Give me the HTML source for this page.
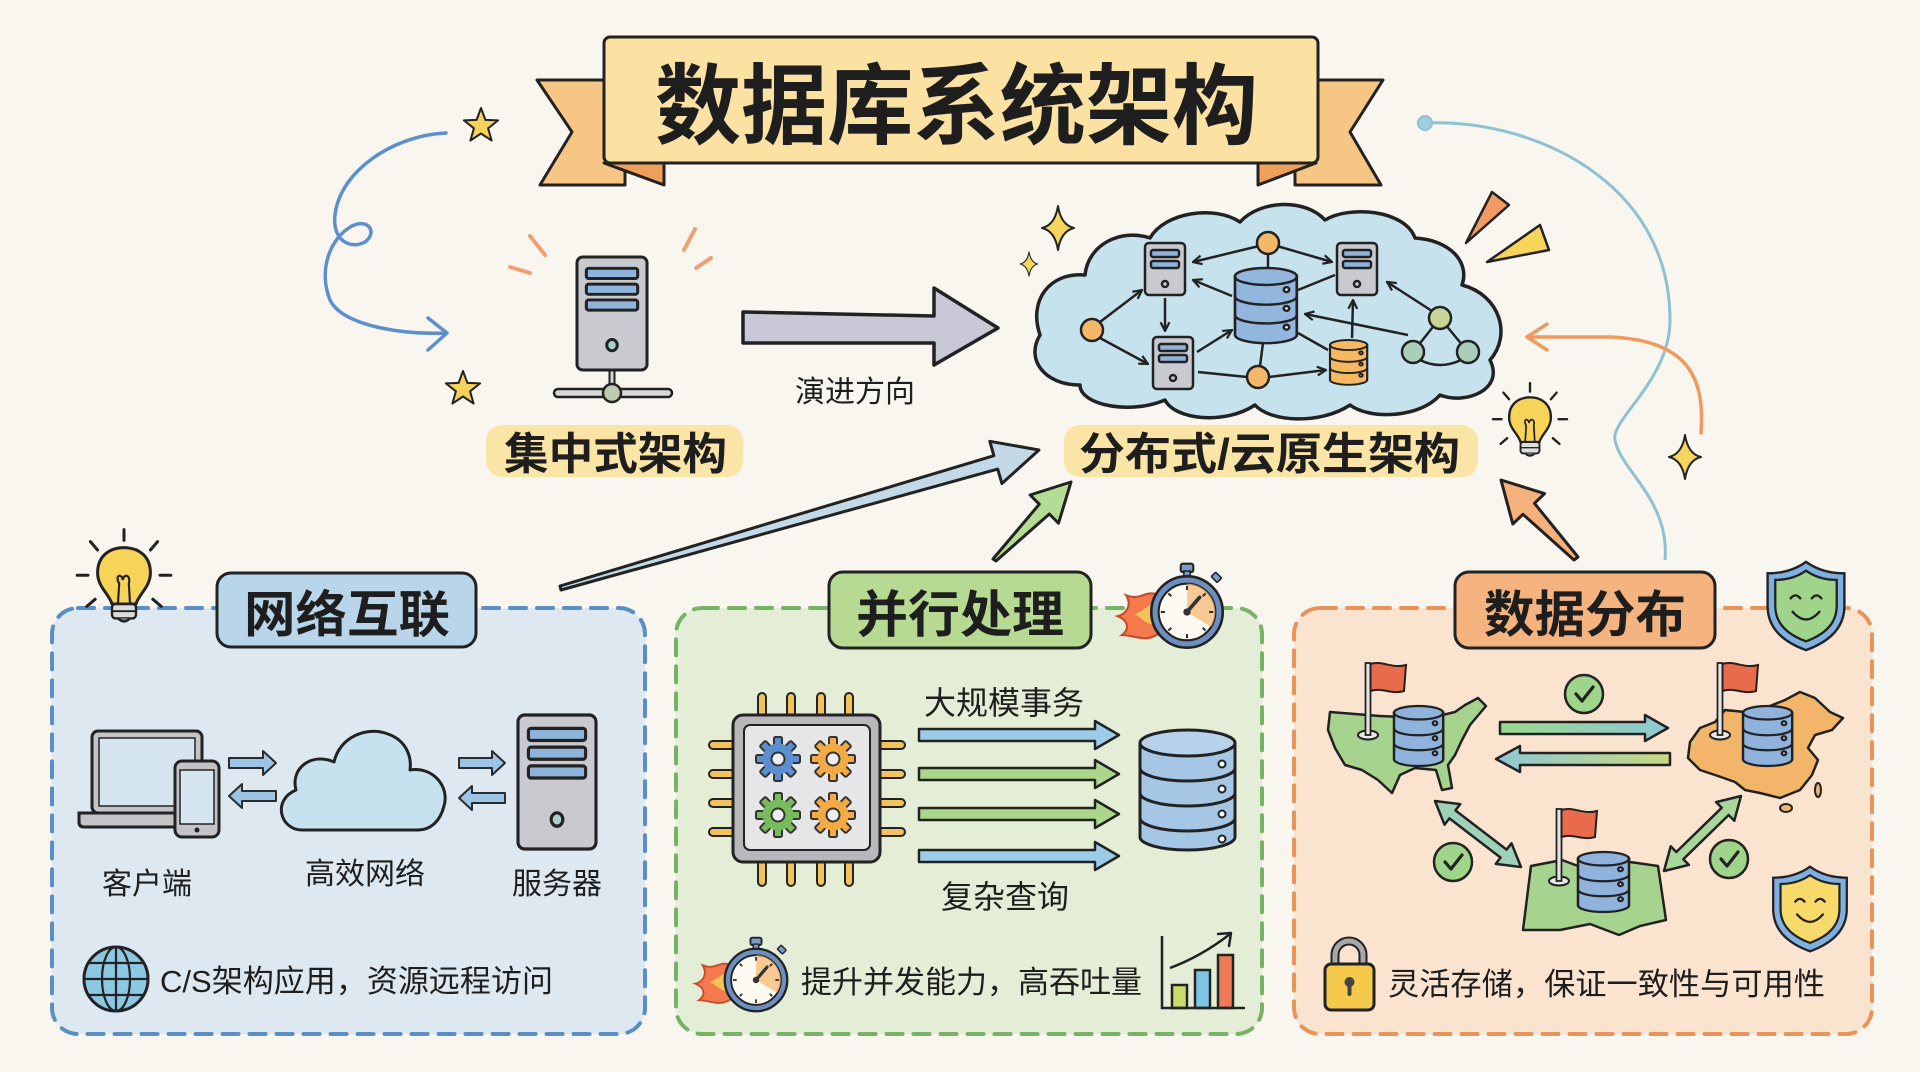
<!DOCTYPE html>
<html><head><meta charset="utf-8">
<style>
html,body{margin:0;padding:0;background:#f8f6ef;}
svg{display:block}
.t{font-family:"Liberation Sans","Noto Sans CJK SC",sans-serif;fill:#1e1e1e}
.b{font-weight:bold}
</style></head><body>
<svg width="1920" height="1072" viewBox="0 0 1920 1072" xmlns="http://www.w3.org/2000/svg">
<defs>
<marker id="ah" viewBox="0 0 10 10" refX="9" refY="5" markerWidth="11" markerHeight="11" markerUnits="userSpaceOnUse" orient="auto"><path d="M1,1 L9,5 L1,9" fill="none" stroke="#222" stroke-width="2"/></marker>
<g id="db">
 <path d="M0,9 V71 A30,9 0 0 0 60,71 V9 Z"/>
 <ellipse cx="30" cy="9" rx="30" ry="9"/>
 <path d="M0,30 A30,9 0 0 0 60,30 M0,50 A30,9 0 0 0 60,50" fill="none"/>
 <circle cx="50" cy="23" r="2.6" fill="#fff"/>
 <circle cx="50" cy="43" r="2.6" fill="#fff"/>
 <circle cx="50" cy="63" r="2.6" fill="#fff"/>
</g>
<g id="srv3">
 <rect x="0" y="0" width="60" height="100" rx="5"/>
 <rect x="8" y="10" width="44" height="9" rx="2" fill="#8fb4dc"/>
 <rect x="8" y="24" width="44" height="9" rx="2" fill="#8fb4dc"/>
 <rect x="8" y="38" width="44" height="9" rx="2" fill="#8fb4dc"/>
 <ellipse cx="30" cy="78" rx="4.5" ry="5" fill="#a9d0cc"/>
</g>
<g id="srv2">
 <rect x="0" y="0" width="40" height="52" rx="4"/>
 <rect x="6" y="7" width="28" height="7" rx="2" fill="#8fb4dc"/>
 <rect x="6" y="18" width="28" height="7" rx="2" fill="#8fb4dc"/>
 <circle cx="20" cy="41" r="3" fill="none"/>
</g>
<path id="star" d="M0,-18 L4.4,-6.1 L17.1,-5.6 L7.1,2.3 L10.6,14.6 L0,7.5 L-10.6,14.6 L-7.1,2.3 L-17.1,-5.6 L-4.4,-6.1 Z" fill="#f6d25a" stroke="#222" stroke-width="2" stroke-linejoin="round"/>
<path id="spark" d="M0,-22 Q3,-3 16,0 Q3,3 0,22 Q-3,3 -16,0 Q-3,-3 0,-22 Z" fill="#f6d55c" stroke="#222" stroke-width="2" stroke-linejoin="round"/>
<g id="gear" stroke="#333" stroke-width="2">
 <rect x="-4" y="-22" width="8" height="9" rx="1.5"/>
 <rect x="-4" y="-22" width="8" height="9" rx="1.5" transform="rotate(45)"/>
 <rect x="-4" y="-22" width="8" height="9" rx="1.5" transform="rotate(90)"/>
 <rect x="-4" y="-22" width="8" height="9" rx="1.5" transform="rotate(135)"/>
 <rect x="-4" y="-22" width="8" height="9" rx="1.5" transform="rotate(180)"/>
 <rect x="-4" y="-22" width="8" height="9" rx="1.5" transform="rotate(225)"/>
 <rect x="-4" y="-22" width="8" height="9" rx="1.5" transform="rotate(270)"/>
 <rect x="-4" y="-22" width="8" height="9" rx="1.5" transform="rotate(315)"/>
 <circle r="15.5" stroke="none"/>
 <circle r="6.5" fill="#eeeeee"/>
</g>
<g id="bulb">
 <g stroke="#222" stroke-width="2.5" stroke-linecap="round">
  <line x1="0" y1="-33" x2="0" y2="-42"/>
  <line x1="-22" y1="-25" x2="-28" y2="-32"/>
  <line x1="22" y1="-25" x2="28" y2="-32"/>
  <line x1="-30" y1="-4" x2="-39" y2="-4"/>
  <line x1="30" y1="-4" x2="39" y2="-4"/>
  <line x1="-24" y1="16" x2="-31" y2="22"/>
  <line x1="24" y1="16" x2="31" y2="22"/>
 </g>
 <path d="M-10,20 C-12,12 -22,6 -22,-6 C-22,-20 -12,-27 0,-27 C12,-27 22,-20 22,-6 C22,6 12,12 10,20 Z" fill="#f7d458" stroke="#222" stroke-width="2.5"/>
 <path d="M-5,19 L-4,3 C-8,-4 -2,-6 -1,0 C0,-6 6,-4 4,3 L5,19" fill="none" stroke="#222" stroke-width="1.8"/>
 <rect x="-10" y="20" width="20" height="12" rx="3" fill="#dddddd" stroke="#222" stroke-width="2"/>
 <line x1="-10" y1="26" x2="10" y2="26" stroke="#222" stroke-width="1.5"/>
 <path d="M-5,32 Q0,37 5,32" fill="#888" stroke="#222" stroke-width="2"/>
</g>
<g id="sw">
 <path d="M-26,-16 C-40,-22 -44,-10 -58,-16 C-52,-6 -58,2 -66,4 C-56,8 -54,16 -62,22 C-48,22 -40,30 -26,20 Z" fill="#f27a4c" stroke="#c94a2a" stroke-width="2"/>
 <path d="M-28,-8 C-38,-8 -42,0 -50,2 C-42,6 -40,12 -30,12 Z" fill="#f8c25a"/>
 <rect x="-6" y="-46" width="12" height="8" rx="2" fill="#7a9cc8" stroke="#222" stroke-width="2"/>
 <rect x="-3" y="-39" width="6" height="6" fill="#7a9cc8" stroke="#222" stroke-width="1.5"/>
 <rect x="24" y="-36" width="8" height="6" rx="1" transform="rotate(45 28 -33)" fill="#7a9cc8" stroke="#222" stroke-width="1.5"/>
 <circle r="34" fill="#6d8fbf" stroke="#222" stroke-width="2.5"/>
 <circle r="27" fill="#fdfaf2" stroke="#222" stroke-width="2"/>
 <path d="M0,0 L0,-27 A27,27 0 0 1 23,14 Z" fill="#f6b36c" opacity="0.7"/>
 <g stroke="#333" stroke-width="2">
  <line x1="0" y1="-21" x2="0" y2="-25"/><line x1="0" y1="21" x2="0" y2="25"/>
  <line x1="-21" y1="0" x2="-25" y2="0"/><line x1="21" y1="0" x2="25" y2="0"/>
  <line x1="15" y1="-15" x2="17.7" y2="-17.7"/><line x1="-15" y1="-15" x2="-17.7" y2="-17.7"/>
  <line x1="15" y1="15" x2="17.7" y2="17.7"/><line x1="-15" y1="15" x2="-17.7" y2="17.7"/>
 </g>
 <line x1="0" y1="0" x2="12" y2="-14" stroke="#333" stroke-width="3.5" stroke-linecap="round"/>
 <circle r="3.5" fill="#333"/>
</g>
<g id="shield">
 <path d="M0,-46 C14,-36 28,-34 40,-34 L40,0 C40,24 22,38 0,46 C-22,38 -40,24 -40,0 L-40,-34 C-28,-34 -14,-36 0,-46 Z" fill="#7fb0e0" stroke="#222" stroke-width="2.5"/>
 <path transform="scale(0.8)" d="M0,-46 C14,-36 28,-34 40,-34 L40,0 C40,24 22,38 0,46 C-22,38 -40,24 -40,0 L-40,-34 C-28,-34 -14,-36 0,-46 Z" stroke="#222" stroke-width="3"/>
 <path d="M-16,-8 Q-11,-14 -6,-8 M6,-8 Q11,-14 16,-8 M-14,6 Q0,22 14,6" fill="none" stroke="#222" stroke-width="2.5" stroke-linecap="round"/>
</g>
<g id="chk"><circle r="19" fill="#9fd58a" stroke="#222" stroke-width="2.5"/><path d="M-8,0 L-2,7 L9,-7" fill="none" stroke="#222" stroke-width="3.2" stroke-linecap="round" stroke-linejoin="round"/></g>
<g id="flag">
 <ellipse cx="0" cy="0" rx="10" ry="4.5" fill="#e8e8e8" stroke="#222" stroke-width="2"/>
 <rect x="-2.5" y="-72" width="5" height="72" fill="#e5e5e5" stroke="#222" stroke-width="1.8"/>
 <path d="M2.5,-71 C14,-75 24,-66 38,-70 L36,-44 C24,-40 14,-48 2.5,-44 Z" fill="#ea6a4c" stroke="#222" stroke-width="2"/>
</g>
<linearGradient id="gArr" x1="0" y1="0" x2="1" y2="0"><stop offset="0" stop-color="#9ad88e"/><stop offset="1" stop-color="#8ec8d4"/></linearGradient>
<linearGradient id="gArr2" x1="0" y1="0" x2="1" y2="0"><stop offset="0" stop-color="#8ec8d4"/><stop offset="1" stop-color="#c8d880"/></linearGradient>
</defs>

<rect width="1920" height="1072" fill="#f8f6ef"/>

<!-- Title banner -->
<g stroke="#222" stroke-width="3" stroke-linejoin="round">
<polygon points="537,80 625,80 625,185 540,185 572,132" fill="#f7c685"/>
<polygon points="1383,80 1295,80 1295,185 1381,185 1350,132" fill="#f7c685"/>
<polygon points="604,163 664,163 664,185" fill="#ee9f5a"/>
<polygon points="1316,163 1258,163 1258,185" fill="#ee9f5a"/>
<rect x="604" y="37" width="714" height="126" rx="6" fill="#fbe2a2"/>
</g>
<text class="t b" x="655" y="137" font-size="88" textLength="603" lengthAdjust="spacingAndGlyphs">数据库系统架构</text>

<!-- stars & curly arrow left -->
<use href="#star" transform="translate(481,126)"/>
<use href="#star" transform="translate(463,389)"/>
<path d="M446,133 C395,135 340,170 335,215 C332,240 350,250 365,242 C378,232 368,218 352,226 C330,238 318,270 330,300 C342,325 400,335 446,333" fill="none" stroke="#5b8fd0" stroke-width="3.5" stroke-linecap="round"/>
<path d="M428,318 L447,333 L428,350" fill="none" stroke="#5b8fd0" stroke-width="3.5" stroke-linecap="round" stroke-linejoin="round"/>

<!-- centralized server -->
<g stroke="#f0a070" stroke-width="4" stroke-linecap="round">
<line x1="530" y1="236" x2="545" y2="255"/><line x1="510" y1="267" x2="530" y2="273"/>
<line x1="695" y1="229" x2="684" y2="250"/><line x1="711" y1="258" x2="696" y2="268"/>
</g>
<line x1="612" y1="368" x2="612" y2="392" stroke="#222" stroke-width="7"/>
<line x1="612" y1="368" x2="612" y2="392" stroke="#d8d8d8" stroke-width="3"/>
<rect x="554" y="389" width="118" height="8" rx="4" fill="#d8d8d8" stroke="#222" stroke-width="2.5"/>
<circle cx="612" cy="393" r="9" fill="#bfcab0" stroke="#222" stroke-width="2.5"/>
<use href="#srv3" transform="translate(577,257) scale(1.167,1.13)" fill="#c9cacf" stroke="#222" stroke-width="2.6"/>

<!-- big gray arrow -->
<polygon points="743,312 934,316 934,288 998,328 934,365 934,343 743,343" fill="#c8c8d6" stroke="#222" stroke-width="3.5" stroke-linejoin="round"/>
<text class="t" x="855" y="402" font-size="30" text-anchor="middle">演进方向</text>

<!-- label centralized -->
<rect x="486" y="425" width="257" height="52" rx="16" fill="#fae4a6"/>
<text class="t b" x="504" y="469" font-size="44" textLength="223" lengthAdjust="spacingAndGlyphs">集中式架构</text>

<!-- Cloud distributed -->
<use href="#spark" transform="translate(1058,228)"/>
<use href="#spark" transform="translate(1029,264) scale(0.55)"/>
<path d="M1040,335 C1028,300 1050,272 1085,275 C1088,245 1120,228 1150,238 C1165,212 1215,205 1240,222 C1260,200 1305,198 1325,220 C1350,205 1405,210 1415,238 C1450,240 1470,262 1462,285 C1500,295 1512,335 1490,360 C1505,390 1465,405 1440,395 C1420,418 1370,420 1350,405 C1320,425 1270,422 1255,405 C1225,425 1175,420 1165,400 C1130,415 1080,405 1080,385 C1045,385 1025,360 1040,335 Z" fill="#c6e2ec" stroke="#222" stroke-width="3.5" stroke-linejoin="round"/>
<g stroke="#222" stroke-width="2.5" fill="none">
<line x1="1100" y1="322" x2="1142" y2="290" marker-end="url(#ah)"/>
<line x1="1100" y1="338" x2="1148" y2="364" marker-end="url(#ah)"/>
<line x1="1165" y1="298" x2="1165" y2="331" marker-end="url(#ah)"/>
<line x1="1259" y1="246" x2="1193" y2="262" marker-end="url(#ah)"/>
<line x1="1277" y1="246" x2="1332" y2="262" marker-end="url(#ah)"/>
<line x1="1268" y1="254" x2="1268" y2="270"/>
<line x1="1232" y1="296" x2="1193" y2="280" marker-end="url(#ah)"/>
<line x1="1197" y1="352" x2="1232" y2="330" marker-end="url(#ah)"/>
<line x1="1298" y1="290" x2="1335" y2="275"/>
<line x1="1263" y1="343" x2="1260" y2="366"/>
<line x1="1198" y1="372" x2="1247" y2="377"/>
<line x1="1269" y1="377" x2="1326" y2="370" marker-end="url(#ah)"/>
<line x1="1298" y1="333" x2="1328" y2="350"/>
<line x1="1352" y1="338" x2="1353" y2="300" marker-end="url(#ah)"/>
<line x1="1432" y1="311" x2="1387" y2="282" marker-end="url(#ah)"/>
<line x1="1408" y1="335" x2="1305" y2="314" marker-end="url(#ah)"/>
<line x1="1440" y1="318" x2="1413" y2="352"/>
<line x1="1440" y1="318" x2="1468" y2="352"/>
<path d="M1420,360 Q1440,370 1461,360"/>
</g>
<use href="#srv2" transform="translate(1145,243)" fill="#c9cacf" stroke="#222" stroke-width="2.5"/>
<use href="#srv2" transform="translate(1153,337)" fill="#c9cacf" stroke="#222" stroke-width="2.5"/>
<use href="#srv2" transform="translate(1337,243)" fill="#c9cacf" stroke="#222" stroke-width="2.5"/>
<use href="#db" transform="translate(1235,268) scale(1.03,0.94)" fill="#93b6de" stroke="#222" stroke-width="2.6"/>
<use href="#db" transform="translate(1330,340) scale(0.62,0.56)" fill="#f6b861" stroke="#222" stroke-width="3.5"/>
<g stroke="#222" stroke-width="2.5">
<circle cx="1092" cy="330" r="11" fill="#f5b868"/>
<circle cx="1268" cy="243" r="11" fill="#f5b868"/>
<circle cx="1258" cy="377" r="11" fill="#f5b868"/>
<circle cx="1440" cy="318" r="11" fill="#c9d49a"/>
<circle cx="1413" cy="352" r="11" fill="#a9cfb8"/>
<circle cx="1468" cy="352" r="11" fill="#a9cfb8"/>
</g>
<polygon points="1466,243 1492,192 1509,205" fill="#f19a62" stroke="#222" stroke-width="2.5" stroke-linejoin="round"/>
<polygon points="1487,262 1540,225 1549,250" fill="#f6d55a" stroke="#222" stroke-width="2.5" stroke-linejoin="round"/>

<!-- right decorations -->
<path d="M1425,123 C1530,118 1670,180 1670,320 C1670,380 1610,420 1615,440 C1620,470 1670,500 1665,560" fill="none" stroke="#8ec1d4" stroke-width="3"/>
<circle cx="1425" cy="123" r="7" fill="#9fd0dc" stroke="#8ec1d4" stroke-width="2"/>
<path d="M1701,433 C1705,380 1690,340 1610,337 L1527,337" fill="none" stroke="#ef9a5f" stroke-width="3.5" stroke-linecap="round"/>
<path d="M1547,324 L1527,337 L1547,350" fill="none" stroke="#ef9a5f" stroke-width="3.5" stroke-linecap="round" stroke-linejoin="round"/>
<use href="#spark" transform="translate(1685,457)"/>
<use href="#bulb" transform="translate(1530,423) scale(0.95)"/>

<!-- label distributed -->
<rect x="1064" y="425" width="414" height="52" rx="16" fill="#fae4a6"/>
<text class="t b" x="1079" y="469" font-size="44" textLength="381" lengthAdjust="spacingAndGlyphs">分布式/云原生架构</text>

<!-- arrows to label -->
<polygon points="560,586 993.9,455.7 989.8,441.3 1039,450 1001.9,483.5 997.7,469.1 561,590" fill="#c3d9e8" stroke="#222" stroke-width="3" stroke-linejoin="round"/>
<polygon points="993,559 1039.3,504.2 1030.1,495 1071,482 1058.5,523.2 1049.3,514 996,561" fill="#b4dc94" stroke="#222" stroke-width="3" stroke-linejoin="round"/>
<polygon points="1578,557 1534.5,503.3 1544.6,493.6 1501,480 1512.8,524 1522.9,514.3 1574,560" fill="#f5b07c" stroke="#222" stroke-width="3" stroke-linejoin="round"/>

<!-- ===== Blue panel ===== -->
<rect x="52" y="608" width="593" height="426" rx="26" fill="#dde8f0" stroke="#5b8ec4" stroke-width="4" stroke-dasharray="16 11" stroke-linecap="round"/>
<rect x="217" y="573" width="259" height="74" rx="14" fill="#b9d5ea" stroke="#222" stroke-width="3"/>
<text class="t b" x="244" y="632" font-size="50" textLength="206" lengthAdjust="spacingAndGlyphs">网络互联</text>
<use href="#bulb" transform="translate(124,580) scale(1.2)"/>
<!-- laptop -->
<rect x="92" y="731" width="110" height="82" rx="6" fill="#c4c4c8" stroke="#222" stroke-width="3"/>
<rect x="99" y="738" width="96" height="68" fill="#d6e6f1" stroke="#222" stroke-width="1.5"/>
<path d="M79,813 H212 V822 Q212,827 207,827 H84 Q79,827 79,822 Z" fill="#c4c4c8" stroke="#222" stroke-width="3"/>
<rect x="175" y="761" width="44" height="76" rx="7" fill="#c4c4c8" stroke="#222" stroke-width="3"/>
<rect x="180" y="770" width="34" height="54" fill="#d6e6f1" stroke="#222" stroke-width="1.5"/>
<circle cx="197" cy="830" r="2.5" fill="#222"/>
<g fill="#9cc4e4" stroke="#2b2b2b" stroke-width="2" stroke-linejoin="round">
<polygon points="229,758 263,758 263,751 276,763 263,775 263,768 229,768"/>
<polygon points="276,791 242,791 242,784 229,796 242,808 242,801 276,801"/>
<polygon points="459,758 492,758 492,751 505,763 492,775 492,768 459,768"/>
<polygon points="505,793 472,793 472,786 459,798 472,810 472,803 505,803"/>
</g>
<path d="M302,830 C280,830 272,800 296,790 C290,768 312,752 334,762 C340,736 368,726 388,734 C405,740 412,755 410,770 C432,766 450,786 444,806 C440,822 430,830 418,830 Z" fill="#c6e2ef" stroke="#222" stroke-width="3" stroke-linejoin="round"/>
<use href="#srv3" transform="translate(518,715) scale(1.3,1.34)" fill="#c9cacf" stroke="#222" stroke-width="2.4"/>
<text class="t" x="147" y="894" font-size="30" text-anchor="middle">客户端</text>
<text class="t" x="365" y="884" font-size="30" text-anchor="middle">高效网络</text>
<text class="t" x="557" y="894" font-size="30" text-anchor="middle">服务器</text>
<g stroke="#222" fill="none" stroke-width="2.2">
<circle cx="116" cy="979" r="32" fill="#8dc8e3" stroke-width="3"/>
<ellipse cx="116" cy="979" rx="14" ry="32"/>
<line x1="116" y1="947" x2="116" y2="1011"/>
<line x1="88" y1="963" x2="144" y2="963"/>
<line x1="84" y1="979" x2="148" y2="979"/>
<line x1="88" y1="995" x2="144" y2="995"/>
</g>
<text class="t" x="160" y="992" font-size="31" textLength="393" lengthAdjust="spacingAndGlyphs">C/S架构应用，资源远程访问</text>

<!-- ===== Green panel ===== -->
<rect x="676" y="608" width="586" height="426" rx="26" fill="#e4eed6" stroke="#77b266" stroke-width="4" stroke-dasharray="16 11" stroke-linecap="round"/>
<rect x="829" y="572" width="262" height="76" rx="14" fill="#b6da92" stroke="#222" stroke-width="3"/>
<text class="t b" x="856" y="632" font-size="50" textLength="208" lengthAdjust="spacingAndGlyphs">并行处理</text>
<use href="#sw" transform="translate(1187,612) scale(1.05)"/>
<!-- chip -->
<g fill="#f2c25c" stroke="#222" stroke-width="2">
<rect x="758" y="693" width="8" height="24" rx="4"/><rect x="787" y="693" width="8" height="24" rx="4"/><rect x="817" y="693" width="8" height="24" rx="4"/><rect x="845" y="693" width="8" height="24" rx="4"/>
<rect x="758" y="860" width="8" height="26" rx="4"/><rect x="787" y="860" width="8" height="26" rx="4"/><rect x="817" y="860" width="8" height="26" rx="4"/><rect x="845" y="860" width="8" height="26" rx="4"/>
<rect x="709" y="741" width="26" height="8" rx="4"/><rect x="709" y="770" width="26" height="8" rx="4"/><rect x="709" y="799" width="26" height="8" rx="4"/><rect x="709" y="828" width="26" height="8" rx="4"/>
<rect x="878" y="741" width="27" height="8" rx="4"/><rect x="878" y="770" width="27" height="8" rx="4"/><rect x="878" y="799" width="27" height="8" rx="4"/><rect x="878" y="828" width="27" height="8" rx="4"/>
</g>
<rect x="733" y="715" width="147" height="147" rx="10" fill="#b8b8bc" stroke="#222" stroke-width="3"/>
<rect x="744" y="725" width="126" height="125" rx="6" fill="#e6e6e8" stroke="#222" stroke-width="2"/>
<use href="#gear" transform="translate(778,759)" fill="#5b8fcf"/>
<use href="#gear" transform="translate(833,759)" fill="#f2aa45"/>
<use href="#gear" transform="translate(778,815)" fill="#77bb5c"/>
<use href="#gear" transform="translate(833,815)" fill="#f2aa45"/>
<!-- arrows -->
<g stroke="#222" stroke-width="2.5" stroke-linejoin="round">
<polygon points="919,729 1095,729 1095,721 1119,735 1095,749 1095,741 919,741" fill="#9ccbe8"/>
<polygon points="919,768 1095,768 1095,760 1119,774 1095,788 1095,780 919,780" fill="#aad78a"/>
<polygon points="919,808 1095,808 1095,800 1119,814 1095,828 1095,820 919,820" fill="#aad78a"/>
<polygon points="919,850 1095,850 1095,842 1119,856 1095,870 1095,862 919,862" fill="#9ccbe8"/>
</g>
<text class="t" x="1004" y="714" font-size="32" text-anchor="middle">大规模事务</text>
<text class="t" x="1005" y="908" font-size="32" text-anchor="middle">复杂查询</text>
<!-- DB -->
<g stroke="#222" stroke-width="3">
<path d="M1140,743 V837 A47.5,13 0 0 0 1235,837 V743 Z" fill="#a6c6e6"/>
<ellipse cx="1187.5" cy="743" rx="47.5" ry="13" fill="#b8d2ec"/>
<path d="M1140,768 A47.5,13 0 0 0 1235,768 M1140,793 A47.5,13 0 0 0 1235,793 M1140,818 A47.5,13 0 0 0 1235,818" fill="none"/>
<g fill="#fff" stroke-width="2"><circle cx="1222" cy="764" r="3.5"/><circle cx="1222" cy="789" r="3.5"/><circle cx="1222" cy="814" r="3.5"/><circle cx="1222" cy="839" r="3.5"/></g>
</g>
<use href="#sw" transform="translate(756,980) scale(0.92)"/>
<text class="t" x="801" y="993" font-size="31" textLength="341" lengthAdjust="spacingAndGlyphs">提升并发能力，高吞吐量</text>
<!-- chart -->
<g stroke="#222" stroke-width="2.5">
<rect x="1172" y="985" width="15" height="23" fill="#c8dc6a"/>
<rect x="1195" y="970" width="15" height="38" fill="#7fc4e4"/>
<rect x="1218" y="955" width="15" height="53" fill="#ee7a5a"/>
<path d="M1162,936 V1008 H1245" fill="none"/>
<path d="M1170,968 Q1202,956 1230,934" fill="none"/>
<path d="M1218,934 L1231,933 L1229,946" fill="none" stroke-linecap="round" stroke-linejoin="round"/>
</g>

<!-- ===== Orange panel ===== -->
<rect x="1294" y="608" width="578" height="426" rx="26" fill="#fae3cf" stroke="#e8935a" stroke-width="4" stroke-dasharray="16 11" stroke-linecap="round"/>
<rect x="1455" y="572" width="260" height="76" rx="14" fill="#f5b37f" stroke="#222" stroke-width="3"/>
<text class="t b" x="1484" y="632" font-size="50" textLength="202" lengthAdjust="spacingAndGlyphs">数据分布</text>
<use href="#shield" transform="translate(1806,606) scale(0.96)" fill="#9fd48a"/>
<!-- maps -->
<polygon points="1330,712 1380,716 1430,718 1455,712 1465,705 1478,698 1486,706 1470,725 1462,740 1455,755 1448,765 1452,788 1442,790 1436,770 1415,768 1400,775 1392,793 1378,780 1362,770 1345,765 1335,748 1328,730" fill="#a6d38e" stroke="#222" stroke-width="2.5" stroke-linejoin="round"/>
<polygon points="1690,742 1700,728 1715,722 1725,710 1745,712 1765,708 1785,700 1800,692 1815,698 1830,712 1843,718 1832,730 1815,735 1808,748 1818,760 1812,775 1800,790 1780,798 1760,793 1745,790 1735,782 1718,776 1700,770 1688,758" fill="#f2b56a" stroke="#222" stroke-width="2.5" stroke-linejoin="round"/>
<ellipse cx="1786" cy="808" rx="6" ry="4" fill="#f2b56a" stroke="#222" stroke-width="2"/>
<ellipse cx="1818" cy="790" rx="3" ry="7" fill="#f2b56a" stroke="#222" stroke-width="2"/>
<polygon points="1531,866 1562,860 1594,872 1630,862 1658,866 1666,920 1640,926 1619,935 1590,924 1560,930 1523,930" fill="#a6d38e" stroke="#222" stroke-width="2.5" stroke-linejoin="round"/>
<use href="#flag" transform="translate(1368,735)"/>
<use href="#flag" transform="translate(1720,735)"/>
<use href="#flag" transform="translate(1559,881)"/>
<use href="#db" transform="translate(1394,706) scale(0.82,0.75)" fill="#8fb3dc" stroke="#222" stroke-width="3"/>
<use href="#db" transform="translate(1743,706) scale(0.82,0.75)" fill="#8fb3dc" stroke="#222" stroke-width="3"/>
<use href="#db" transform="translate(1578,852) scale(0.85,0.75)" fill="#8fb3dc" stroke="#222" stroke-width="3"/>
<!-- arrows -->
<g stroke="#222" stroke-width="2.5" stroke-linejoin="round">
<polygon points="1500,722 1645,722 1645,715 1668,728 1645,741 1645,734 1500,734" fill="url(#gArr)"/>
<polygon points="1670,753 1520,753 1520,746 1496,759 1520,772 1520,765 1670,765" fill="url(#gArr2)"/>
<polygon points="1435,801 1444.5,824.7 1449.4,818.4 1500.6,857.6 1495.7,863.9 1521,867 1511.5,843.3 1506.6,849.6 1455.4,810.4 1460.3,804.1" fill="#9fd0b8"/>
<polygon points="1741,796 1716.1,802.1 1721.7,807.8 1676.3,852 1670.7,846.3 1664,871 1688.9,864.9 1683.3,859.2 1728.7,815 1734.3,820.7" fill="#a9d69a"/>
</g>
<use href="#chk" transform="translate(1584,694)"/>
<use href="#chk" transform="translate(1453,862)"/>
<use href="#chk" transform="translate(1729,859)"/>
<use href="#shield" transform="translate(1810,909) scale(0.92)" fill="#f7da6a"/>
<!-- lock -->
<path d="M1335,966 V955 A14,14 0 0 1 1363,955 V966" fill="none" stroke="#222" stroke-width="9"/>
<path d="M1335,966 V955 A14,14 0 0 1 1363,955 V966" fill="none" stroke="#a8a8a8" stroke-width="5"/>
<rect x="1325" y="964" width="49" height="46" rx="6" fill="#f5c94c" stroke="#222" stroke-width="3"/>
<circle cx="1349.5" cy="982" r="5" fill="#444"/>
<rect x="1347.5" y="984" width="4" height="12" rx="2" fill="#444"/>
<text class="t" x="1388" y="995" font-size="31" textLength="437" lengthAdjust="spacingAndGlyphs">灵活存储，保证一致性与可用性</text>
</svg>
</body></html>
